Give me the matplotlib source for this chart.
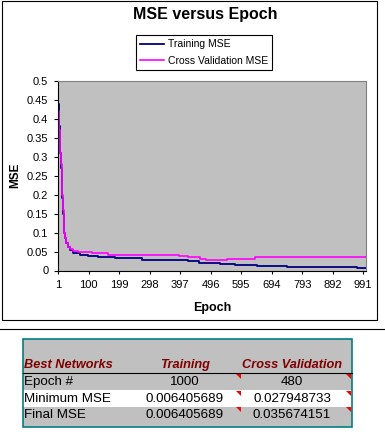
import matplotlib
matplotlib.use("Agg")
import matplotlib.pyplot as plt
from matplotlib.patches import Rectangle, Polygon
from matplotlib.ticker import FuncFormatter

plt.rcParams["font.family"] = ["Liberation Sans", "DejaVu Sans"]

# training MSE: epoch where each step starts, and its value
train_epochs = [1, 3, 5, 7, 9, 11, 13, 15, 17, 19, 21, 24, 28, 33, 40, 51, 72, 99,
                132, 186, 273, 359, 424, 457, 489, 527, 576, 646, 743, 971, 1000]
train_mse = [0.44, 0.41, 0.38, 0.35, 0.31, 0.27, 0.23, 0.19, 0.15, 0.12, 0.10, 0.085,
             0.072, 0.062, 0.055, 0.046, 0.041, 0.038, 0.035, 0.032, 0.029, 0.027,
             0.0245, 0.021, 0.0185, 0.016, 0.0135, 0.011, 0.0088, 0.0064, 0.0064]

# cross validation MSE
cv_epochs = [1, 3, 5, 7, 9, 11, 13, 15, 17, 19, 21, 24, 28, 33, 40, 51, 67, 110,
             164, 262, 392, 424, 462, 480, 549, 641, 1000]
cv_mse = [0.42, 0.39, 0.37, 0.34, 0.31, 0.28, 0.24, 0.20, 0.16, 0.125, 0.10, 0.085,
          0.072, 0.063, 0.057, 0.0505, 0.0475, 0.045, 0.042, 0.040, 0.0377, 0.036,
          0.030, 0.028, 0.0316, 0.0357, 0.0357]

x_tick_labels = [1, 100, 199, 298, 397, 496, 595, 694, 793, 892, 991]

table_header = ["Best Networks", "Training", "Cross Validation"]
table_rows = ["Epoch #", "Minimum MSE", "Final MSE"]
table_training = ["1000", "0.006405689", "0.006405689"]
table_cv = ["480", "0.027948733", "0.035674151"]

W, H = 385, 432


def fx(px):
    return px / W


def fy(py):
    return 1 - py / H


fig = plt.figure(figsize=(W / 100, H / 100), dpi=100)
fig.patch.set_facecolor("white")

# chart frame
fig.patches.append(Rectangle((fx(2), fy(320)), fx(377) - fx(2), fy(1) - fy(320),
                             transform=fig.transFigure, fill=False,
                             edgecolor="black", linewidth=0.8))
# separator line
fig.add_artist(plt.Line2D([0, 1], [fy(329), fy(329)], transform=fig.transFigure,
                          color="black", linewidth=0.8))

ax = fig.add_axes([fx(58), fy(270.5), fx(366) - fx(58), fy(81) - fy(270.5)])
ax.set_facecolor("#C0C0C0")

l1, = ax.step(train_epochs, train_mse, where="post", color="#000080", linewidth=1.3)
l2, = ax.step(cv_epochs, cv_mse, where="post", color="#FF00FF", linewidth=1.2)

ax.set_xlim(1, 1000)
ax.set_ylim(0, 0.5)
ax.set_yticks([i * 0.05 for i in range(11)])
ax.yaxis.set_major_formatter(FuncFormatter(lambda v, p: f"{round(v, 2):g}"))
ax.set_xticks(x_tick_labels)
ax.set_xticklabels([str(v) for v in x_tick_labels])

ax.tick_params(axis="y", direction="out", length=3, width=0.8, pad=4, labelsize=8)
ax.tick_params(axis="x", direction="out", length=2.5, width=0.8, pad=4.5, labelsize=8)
for s in ["left", "bottom"]:
    ax.spines[s].set_color("black")
    ax.spines[s].set_linewidth(0.8)
for s in ["top", "right"]:
    ax.spines[s].set_color("#808080")
    ax.spines[s].set_linewidth(0.8)

fig.text(fx(205), fy(15), "MSE versus Epoch", ha="center", va="center",
         fontsize=11.5, fontweight="bold")
fig.text(fx(15), fy(175.5), "MSE", ha="center", va="center", rotation=90,
         fontsize=8.5, fontweight="bold")
fig.text(fx(212), fy(308), "Epoch", ha="center", va="center",
         fontsize=9, fontweight="bold")

leg = ax.legend([l1, l2], ["Training MSE", "Cross Validation MSE"],
                loc="center", bbox_to_anchor=(fx(204), fy(52.5)),
                bbox_transform=fig.transFigure, fontsize=7.5, frameon=True,
                fancybox=False, framealpha=1, edgecolor="black",
                handlelength=2.3, handletextpad=0.4, labelspacing=0.6,
                borderpad=0.4)
leg.get_frame().set_linewidth(0.8)

# results table
tl, tr, tt, tb = 22.7, 351.7, 338.5, 426.5
row_edges = [373.3, 390, 406.5, tb]
fig.patches.append(Rectangle((fx(tl), fy(tb)), fx(tr) - fx(tl), fy(tt) - fy(tb),
                             transform=fig.transFigure, facecolor="#C0C0C0",
                             edgecolor="none"))
fig.patches.append(Rectangle((fx(tl), fy(row_edges[2])), fx(tr) - fx(tl),
                             fy(row_edges[1]) - fy(row_edges[2]),
                             transform=fig.transFigure, facecolor="white",
                             edgecolor="none"))
fig.patches.append(Rectangle((fx(tl), fy(tb)), fx(tr) - fx(tl), fy(tt) - fy(tb),
                             transform=fig.transFigure, fill=False,
                             edgecolor="#008080", linewidth=1.2))
fig.add_artist(plt.Line2D([fx(tl), fx(tr)], [fy(373.3), fy(373.3)],
                          transform=fig.transFigure, color="black", linewidth=0.8))

col_x = [24.5, 185, 292]
header_y = 365
fig.text(fx(col_x[0]), fy(header_y), table_header[0], ha="left", va="center",
         fontsize=9.2, fontweight="bold", fontstyle="italic", color="#800000")
for x, h in zip(col_x[1:], table_header[1:]):
    fig.text(fx(x), fy(header_y), h, ha="center", va="center",
             fontsize=9.2, fontweight="bold", fontstyle="italic", color="#800000")

row_y = [382, 398.5, 415.5]
for i, (name, tv, cv) in enumerate(zip(table_rows, table_training, table_cv)):
    fig.text(fx(24), fy(row_y[i]), name, ha="left", va="center", fontsize=9.6)
    fig.text(fx(col_x[1]), fy(row_y[i]), tv, ha="center", va="center", fontsize=9.6)
    fig.text(fx(col_x[2]), fy(row_y[i]), cv, ha="center", va="center", fontsize=9.6)
    top = [373.8, 390.5, 407][i]
    for cx in [241, 351]:
        fig.patches.append(Polygon([(fx(cx - 5), fy(top)), (fx(cx), fy(top)),
                                    (fx(cx), fy(top + 5))], closed=True,
                                   transform=fig.transFigure, facecolor="red",
                                   edgecolor="none"))

fig.savefig("out.png", dpi=100)
